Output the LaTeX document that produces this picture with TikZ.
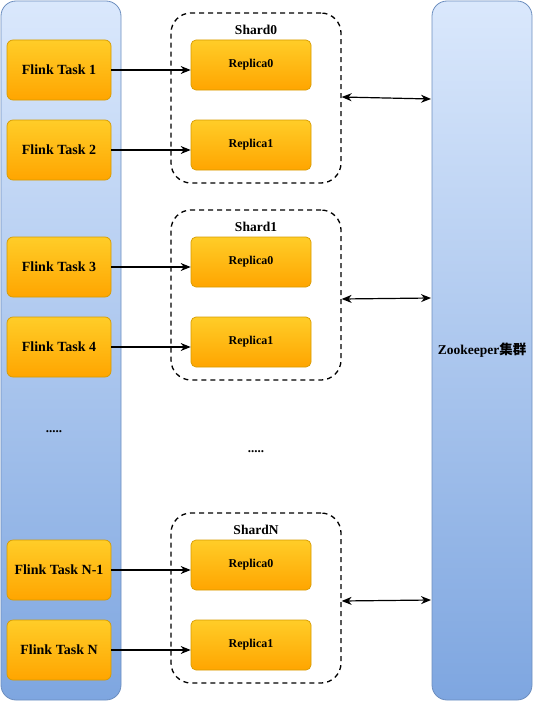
\documentclass[tikz,border=0pt]{standalone}
\usepackage{fontspec}
\setmainfont{Liberation Serif}
\newfontfamily\cjk{Noto Sans CJK SC}
\usetikzlibrary{arrows.meta}
\definecolor{colTop}{HTML}{DAE8FC}
\definecolor{colBot}{HTML}{7EA6E0}
\definecolor{colStroke}{HTML}{6C8EBF}
\definecolor{taskTop}{HTML}{FFCD28}
\definecolor{taskBot}{HTML}{FFA500}
\definecolor{taskStroke}{HTML}{D79B00}
\tikzset{
  column/.style={draw=colStroke, line width=0.8pt, rounded corners=15pt, top color=colTop, bottom color=colBot, minimum width=120pt, minimum height=699pt, inner sep=0pt},
  task/.style={draw=taskStroke, line width=0.7pt, rounded corners=6pt, top color=taskTop, bottom color=taskBot, minimum width=104pt, minimum height=60pt, font=\fontsize{14}{16}\selectfont\bfseries, inner sep=0pt},
  replica/.style={draw=taskStroke, line width=0.7pt, rounded corners=5pt, top color=taskTop, bottom color=taskBot, minimum width=120pt, minimum height=50pt, font=\fontsize{12}{14}\selectfont\bfseries, inner sep=0pt},
  shard/.style={draw=black, line width=1.3pt, dash pattern=on 5pt off 4pt, rounded corners=20pt, minimum width=170pt, minimum height=170pt, inner sep=0pt},
  shardlabel/.style={font=\fontsize{13.5}{15}\selectfont\bfseries, inner sep=0pt},
  conn/.style={line width=1.2pt, -{Stealth[length=10pt,width=8pt]}},
  biconn/.style={line width=1.2pt, {Stealth[length=10pt,width=8pt]}-{Stealth[length=10pt,width=8pt]}},
  dots/.style={font=\fontsize{13}{15}\selectfont\bfseries, inner sep=0pt}
}
\begin{document}
\begin{tikzpicture}[x=1pt,y=-1pt]
\useasboundingbox (0,0) rectangle (533,701);
\node[column] (left) at (61,350.5) {};
\node[column, minimum width=100pt] (zk) at (482,350.5) {\fontsize{13.5}{15}\selectfont\bfseries Zookeeper{\cjk 集群}};
% shards
\node[shard] (s0) at (256,98) {};
\node[shard] (s1) at (256,295) {};
\node[shard] (sN) at (256,598) {};
\node[shardlabel] (s0l) at (256,30) {Shard0};
\node[shardlabel] (s1l) at (256,227) {Shard1};
\node[shardlabel] (sNl) at (256,530) {ShardN};
% replicas
\node[replica] (r00) at (251,65) {Replica0};
\node[replica] (r01) at (251,145) {Replica1};
\node[replica] (r10) at (251,262) {Replica0};
\node[replica] (r11) at (251,342) {Replica1};
\node[replica] (rN0) at (251,565) {Replica0};
\node[replica] (rN1) at (251,645) {Replica1};
% tasks
\node[task] (t1) at (59,70) {Flink Task 1};
\node[task] (t2) at (59,150) {Flink Task 2};
\node[task] (t3) at (59,267) {Flink Task 3};
\node[task] (t4) at (59,347) {Flink Task 4};
\node[task] (tN1) at (59,570) {Flink Task N-1};
\node[task] (tN) at (59,650) {Flink Task N};
\node[dots] (d1) at (54,432) {.....};
\node[dots] (d2) at (256,452) {.....};
% connectors
\draw[conn] (t1.east) -- (t1.east -| r00.west);
\draw[conn] (t2.east) -- (t2.east -| r01.west);
\draw[conn] (t3.east) -- (t3.east -| r10.west);
\draw[conn] (t4.east) -- (t4.east -| r11.west);
\draw[conn] (tN1.east) -- (tN1.east -| rN0.west);
\draw[conn] (tN.east) -- (tN.east -| rN1.west);
\coordinate (z0) at (431,99);
\coordinate (z1) at (431,298);
\coordinate (zN) at (431,600);
\draw[biconn] ([yshift=1pt]s0.east) -- (z0);
\draw[biconn] ([yshift=-4pt]s1.east) -- (z1);
\draw[biconn] ([yshift=-3pt]sN.east) -- (zN);
\end{tikzpicture}
\end{document}
